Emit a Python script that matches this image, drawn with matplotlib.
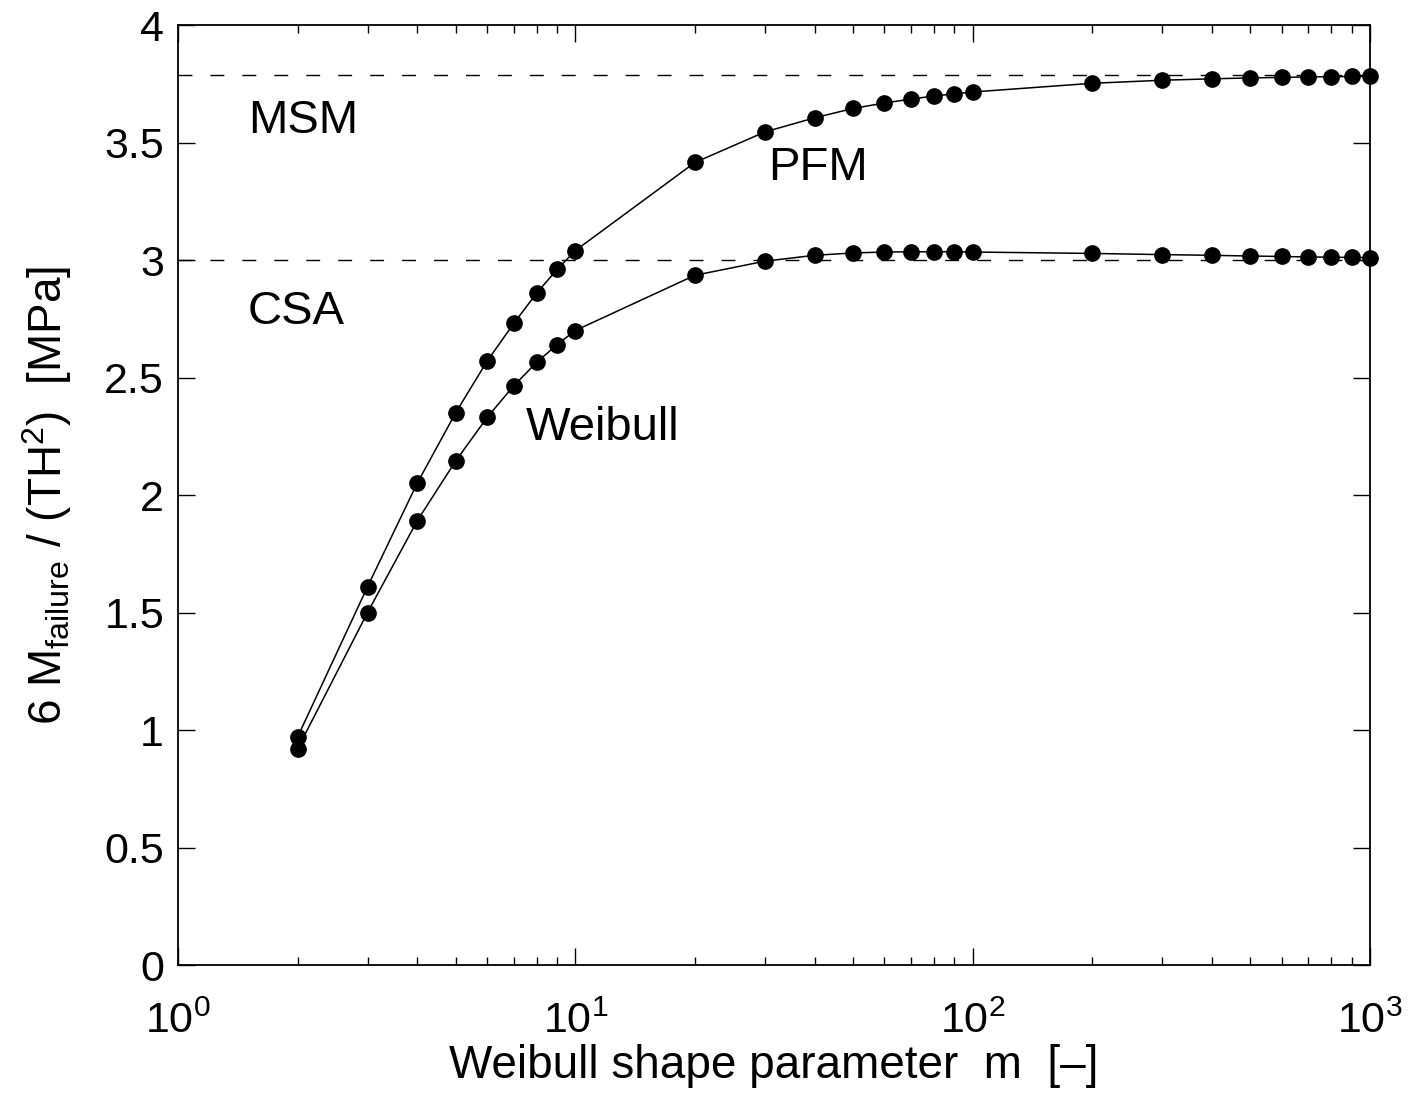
import matplotlib
matplotlib.use("Agg")
import matplotlib.pyplot as plt
from matplotlib.ticker import LogLocator, FixedLocator, NullFormatter

plt.rcParams['font.family'] = ['Liberation Sans', 'DejaVu Sans']
plt.rcParams['mathtext.fontset'] = 'custom'
plt.rcParams['mathtext.rm'] = 'Liberation Sans'
plt.rcParams['mathtext.it'] = 'Liberation Sans'
plt.rcParams['mathtext.default'] = 'regular'

# Data
m_values = [2, 3, 4, 5, 6, 7, 8, 9, 10, 20, 30, 40, 50, 60, 70, 80, 90, 100,
            200, 300, 400, 500, 600, 700, 800, 900, 1000]
pfm = [0.97, 1.61, 2.05, 2.35, 2.57, 2.73, 2.86, 2.96, 3.04, 3.415, 3.545, 3.605,
       3.645, 3.668, 3.685, 3.698, 3.707, 3.715, 3.752, 3.765, 3.771, 3.775,
       3.777, 3.779, 3.780, 3.781, 3.782]
weibull = [0.92, 1.50, 1.89, 2.145, 2.33, 2.465, 2.565, 2.64, 2.70, 2.935, 2.995,
           3.02, 3.03, 3.034, 3.035, 3.035, 3.035, 3.034, 3.028, 3.023, 3.020,
           3.017, 3.015, 3.013, 3.012, 3.011, 3.010]
msm_level = 3.787
csa_level = 3.0
labels = {"MSM": (1.5, 3.59), "CSA": (1.5, 2.78), "PFM": (30.5, 3.39), "Weibull": (7.5, 2.285)}

fig = plt.figure(figsize=(14.26, 10.97), dpi=100)
ax = fig.add_axes([0.1248, 0.1203, 0.9607 - 0.1248, 0.9772 - 0.1203])

ax.axhline(msm_level, color='black', lw=1.0, ls=(0, (10, 13)))
ax.axhline(csa_level, color='black', lw=1.0, ls=(0, (10, 13)))

for ys in (pfm, weibull):
    ax.plot(m_values, ys, color='black', lw=1.1, marker='o', markersize=11,
            markerfacecolor='black', markeredgecolor='black', clip_on=False, zorder=3)

for txt, (xx, yy) in labels.items():
    ax.text(xx, yy, txt, fontsize=34, ha='left', va='center')

ax.set_xscale('log')
ax.set_xlim(1, 1000)
ax.set_ylim(0, 4)
ax.set_yticks([0, 0.5, 1, 1.5, 2, 2.5, 3, 3.5, 4])
ax.set_yticklabels(['0', '0.5', '1', '1.5', '2', '2.5', '3', '3.5', '4'])
ax.xaxis.set_major_locator(FixedLocator([1, 10, 100, 1000]))
ax.set_xticklabels(['$10^{0}$', '$10^{1}$', '$10^{2}$', '$10^{3}$'])
ax.xaxis.set_minor_locator(LogLocator(base=10, subs=range(2, 10)))
ax.xaxis.set_minor_formatter(NullFormatter())

ax.tick_params(axis='both', which='both', direction='in', top=True, right=True,
               labelsize=31, width=1.0)
ax.tick_params(axis='both', which='major', length=12)
ax.tick_params(axis='y', which='major', pad=10)
ax.tick_params(axis='x', which='major', pad=26)
ax.tick_params(axis='x', which='minor', length=6)
for s in ax.spines.values():
    s.set_linewidth(1.3)

ax.set_xlabel('Weibull shape parameter  m  [–]', fontsize=33, labelpad=2)
ax.set_ylabel('6 M$_{failure}$ / (TH$^2$)  [MPa]', fontsize=33, labelpad=22)

fig.savefig('out.png', dpi=100)
